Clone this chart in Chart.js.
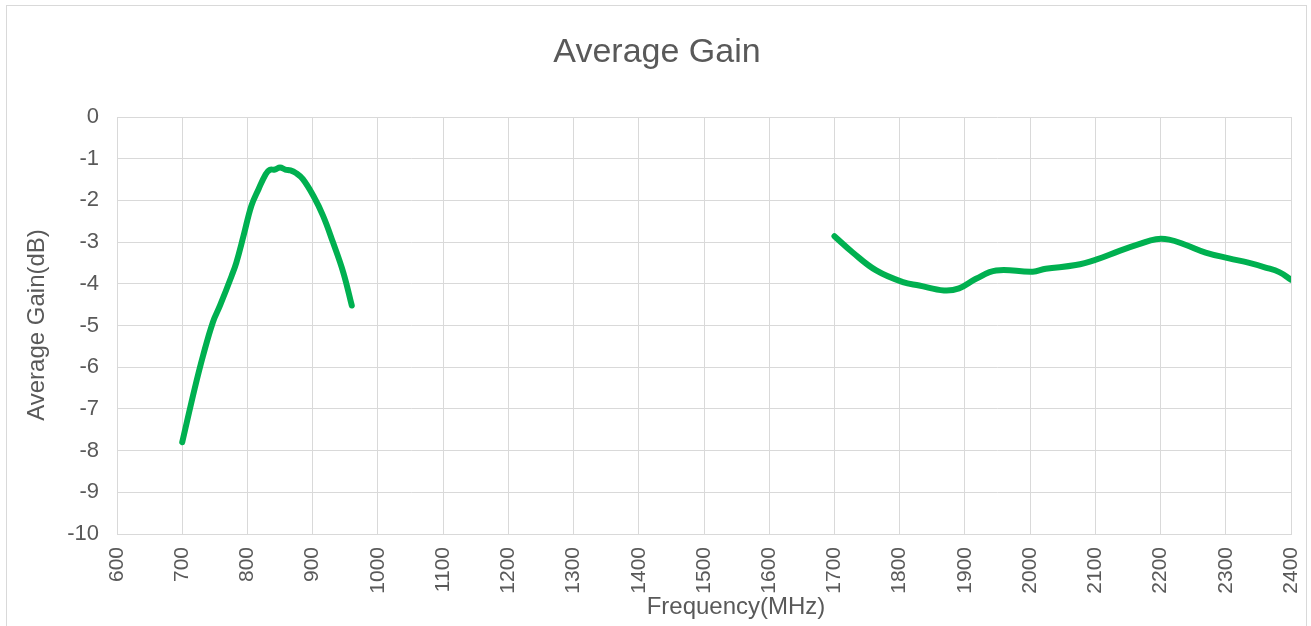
<!DOCTYPE html>
<html>
<head>
<meta charset="utf-8">
<script src="https://cdn.jsdelivr.net/npm/chart.js@4"></script>
<style>
  html, body { margin: 0; padding: 0; background: #ffffff; }
  #wrap { position: relative; width: 1311px; height: 626px; }
</style>
</head>
<body>
<div id="wrap"><canvas id="c" width="1311" height="626"></canvas></div>
<script>
// ---- data ----
const chartTitle = "Average Gain";
const xTitle = "Frequency(MHz)";
const yTitle = "Average Gain(dB)";

const lowBandFreq = [700, 719, 732, 747, 758, 776, 783, 794, 806, 817, 828, 834, 842, 850, 858, 866, 874, 885, 901, 916, 931, 947, 960];
const lowBandGain = [-7.80, -6.52, -5.72, -4.92, -4.52, -3.80, -3.49, -2.85, -2.13, -1.73, -1.37, -1.27, -1.26, -1.21, -1.26, -1.28, -1.34, -1.49, -1.89, -2.37, -3.00, -3.73, -4.52];

const highBandFreq = [1700, 1728, 1764, 1805, 1830, 1868, 1891, 1917, 1948, 2004, 2024, 2070, 2101, 2137, 2167, 2193, 2213, 2239, 2269, 2305, 2336, 2361, 2382, 2400];
const highBandGain = [-2.86, -3.25, -3.68, -3.96, -4.04, -4.16, -4.11, -3.88, -3.68, -3.71, -3.64, -3.55, -3.42, -3.21, -3.05, -2.93, -2.94, -3.07, -3.25, -3.39, -3.50, -3.61, -3.72, -3.90];

const xMin = 600, xMax = 2400, xStep = 100;
const yMin = -10, yMax = 0, yStep = 1;

// ---- build ----
const toPts = (xs, ys) => xs.map((x, i) => ({ x: x, y: ys[i] }));
const textColor = '#595959';
const gridColor = '#d9d9d9';
const lineColor = '#00b050';
const FONT = '"Liberation Sans", Arial, sans-serif';

const decorPlugin = {
  id: 'decor',
  beforeDraw(chart) {
    const ctx = chart.ctx;
    ctx.save();
    ctx.strokeStyle = gridColor;
    ctx.lineWidth = 1;
    ctx.strokeRect(6.5, 5.5, 1300, 700);
    ctx.restore();
  },
  afterDraw(chart) {
    const ctx = chart.ctx;
    const a = chart.chartArea;
    ctx.save();
    ctx.fillStyle = textColor;
    ctx.textAlign = 'center';
    ctx.textBaseline = 'alphabetic';
    ctx.font = '34px ' + FONT;
    ctx.fillText(chartTitle, 657, 62);
    ctx.font = '24px ' + FONT;
    ctx.textBaseline = 'middle';
    ctx.fillText(xTitle, 736, 607);
    ctx.translate(37, 325);
    ctx.rotate(-Math.PI / 2);
    ctx.fillText(yTitle, 0, 0);
    ctx.restore();
  }
};

const lineStyle = { showLine: true, borderColor: lineColor, backgroundColor: lineColor,
  borderWidth: 6, pointRadius: 0, tension: 0.4, borderCapStyle: 'round', borderJoinStyle: 'round' };

new Chart(document.getElementById('c'), {
  type: 'scatter',
  data: {
    datasets: [
      Object.assign({ data: toPts(lowBandFreq, lowBandGain) }, lineStyle),
      Object.assign({ data: toPts(highBandFreq, highBandGain) }, lineStyle)
    ]
  },
  options: {
    responsive: false,
    animation: false,
    layout: { padding: { top: 117, right: 20, left: 0, bottom: 0 } },
    plugins: { legend: { display: false }, tooltip: { enabled: false }, title: { display: false } },
    scales: {
      x: {
        type: 'linear', min: xMin, max: xMax,
        afterFit: s => { s.height = 92; s.paddingLeft = 0; s.paddingRight = 0; },
        ticks: { stepSize: xStep, autoSkip: false, minRotation: 90, maxRotation: 90, padding: 13,
                 callback: v => String(v),
                 color: textColor, font: { family: FONT, size: 21 } },
        grid: { color: gridColor, lineWidth: 1, drawTicks: false },
        border: { color: gridColor }
      },
      y: {
        type: 'linear', min: yMin, max: yMax,
        afterFit: s => { s.width = 117; s.paddingTop = 0; s.paddingBottom = 0; },
        ticks: { stepSize: yStep, padding: 18, callback: v => String(v),
                 color: textColor, font: { family: FONT, size: 22 } },
        grid: { color: gridColor, lineWidth: 1, drawTicks: false },
        border: { color: gridColor }
      }
    }
  },
  plugins: [decorPlugin]
});
</script>
</body>
</html>
